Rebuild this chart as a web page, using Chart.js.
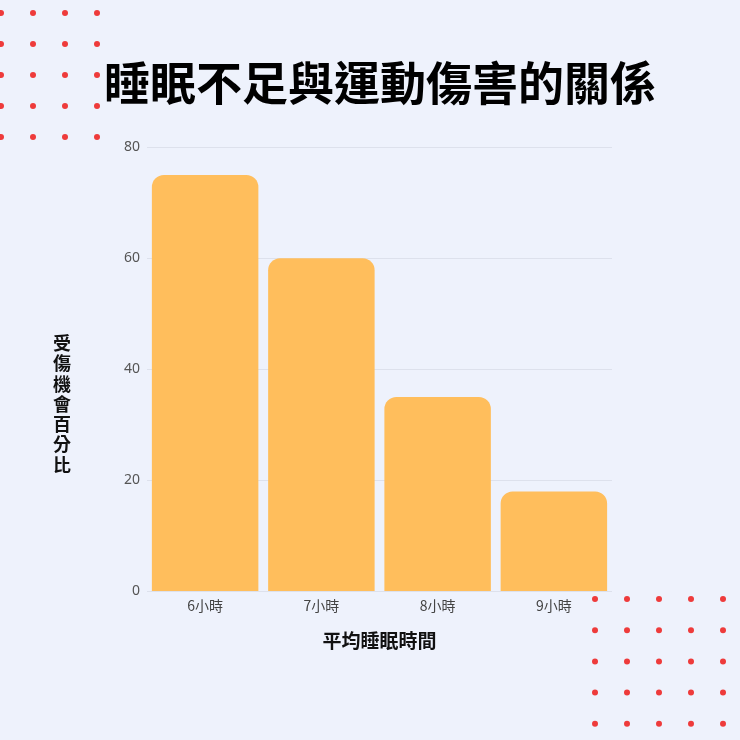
<!DOCTYPE html>
<html>
<head>
<meta charset="utf-8">
<script src="https://cdn.jsdelivr.net/npm/chart.js@4.4.0/dist/chart.umd.min.js"></script>
<style>
  html, body { margin: 0; padding: 0; background: #eef2fc; }
  #wrap { width: 740px; height: 740px; }
</style>
</head>
<body>
<div id="wrap"><canvas id="mycanvas" width="740" height="740"></canvas></div>
<script>
var categories = ["6小時", "7小時", "8小時", "9小時"];
var injuryRate = [75, 60, 35, 18];
var yTicks = [0, 20, 40, 60, 80];

var chartTitle = "睡眠不足與運動傷害的關係";
var xTitle = "平均睡眠時間";
var yTitle = "受傷機會百分比";

var CJK = "'Noto Sans CJK TC', 'Noto Sans', sans-serif";

// background + red dot decorations + vertical y title
var decor = {
	id: "decor",
	beforeDraw: function(chart) {
		var c = chart.ctx;
		c.save();
		c.fillStyle = "#eef2fc";
		c.fillRect(0, 0, chart.width, chart.height);
		c.fillStyle = "#ee3b3b";
		var i, j;
		for (i = 0; i < 4; i++) {
			for (j = 0; j < 5; j++) {
				c.beginPath();
				c.arc(1 + i * 32, 13 + j * 31, 3, 0, Math.PI * 2);
				c.fill();
			}
		}
		for (i = 0; i < 5; i++) {
			for (j = 0; j < 5; j++) {
				c.beginPath();
				c.arc(595 + i * 32, 599 + j * 31.2, 3, 0, Math.PI * 2);
				c.fill();
			}
		}
		c.restore();
	},
	afterDraw: function(chart) {
		var c = chart.ctx;
		c.save();
		c.fillStyle = "#111";
		c.font = "bold 18px " + CJK;
		c.textAlign = "center";
		c.textBaseline = "middle";
		var chars = yTitle.split("");
		var step = 20.3;
		var cy = 404 - (chars.length - 1) * step / 2;
		for (var k = 0; k < chars.length; k++) {
			c.fillText(chars[k], 62, cy + k * step);
		}
		c.restore();
	}
};

var ctx = document.getElementById("mycanvas");

var BarGraph = new Chart(ctx, {
	type: "bar",
	data: {
		labels: categories,
		datasets: [
			{
				label: "受傷機會",
				data: injuryRate,
				backgroundColor: "#ffbe5c",
				borderRadius: { topLeft: 12, topRight: 12 },
				borderSkipped: "bottom",
				barPercentage: 0.916,
				categoryPercentage: 1.0
			}
		]
	},
	options: {
		responsive: false,
		animation: false,
		devicePixelRatio: 1,
		layout: { padding: { left: 40, right: 20, top: 55, bottom: 88 } },
		plugins: {
			legend: { display: false },
			tooltip: { enabled: false },
			title: {
				display: true,
				text: chartTitle,
				color: "#000",
				font: { family: CJK, size: 46, weight: "bold" },
				padding: { top: 0, bottom: 37 }
			}
		},
		scales: {
			x: {
				grid: { display: false, drawTicks: false },
				border: { display: false },
				ticks: {
					color: "#444",
					font: { family: CJK, size: 14 },
					padding: 6
				},
				title: {
					display: true,
					text: xTitle,
					color: "#111",
					font: { family: CJK, size: 19, weight: "bold" },
					padding: { top: 9, bottom: 0 }
				}
			},
			y: {
				min: 0,
				max: 80,
				afterFit: function(scale) { scale.width = 107; },
				afterBuildTicks: function(scale) {
					scale.ticks = yTicks.map(function(v) { return { value: v }; });
				},
				grid: { color: "#dde1ec", drawTicks: false },
				border: { display: false },
				ticks: {
					color: "#555",
					font: { family: "'Noto Sans', sans-serif", size: 14 },
					padding: 7
				}
			},
			yRight: {
				position: "right",
				min: 0,
				max: 80,
				afterFit: function(scale) { scale.width = 108; },
				grid: { display: false, drawTicks: false },
				border: { display: false },
				ticks: { display: false }
			}
		}
	},
	plugins: [decor]
});
</script>
</body>
</html>
